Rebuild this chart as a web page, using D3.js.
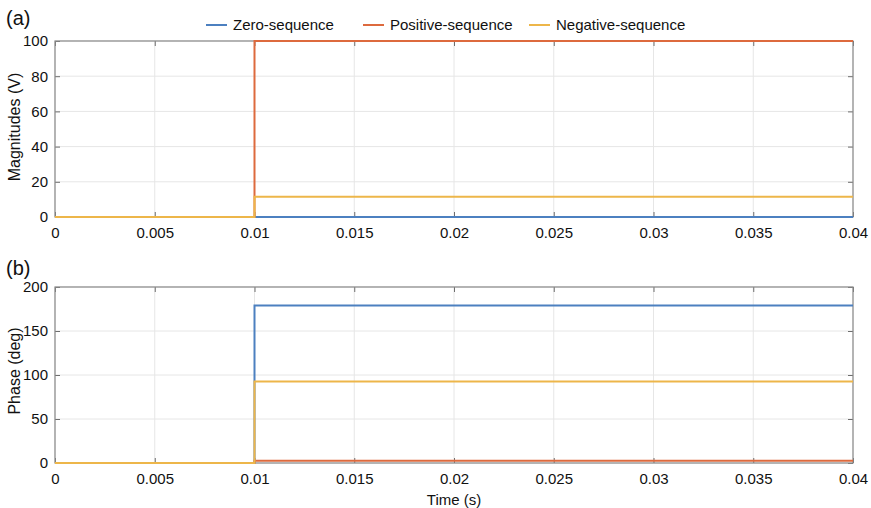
<!DOCTYPE html>
<html>
<head>
<meta charset="utf-8">
<script src="https://cdn.jsdelivr.net/npm/d3@7"></script>
<style>
  html, body { margin: 0; padding: 0; background: #fff; }
  svg { display: block; font-family: "Liberation Sans", Arial, sans-serif; }
</style>
</head>
<body>
<svg id="chart" width="871" height="508"></svg>
<script>
// Sequence components: step change at t = 0.01 s
const seriesNames = ["Zero-sequence", "Positive-sequence", "Negative-sequence"];
const seriesColors = ["#4C80C0", "#DD6A3E", "#EDB64A"];
const stepTime = 0.01;
const timeRange = [0, 0.04];
const magBefore = [0, 0, 0];
const magAfter = [0, 100, 11.5];
const phaseBefore = [0, 0, 0];
const phaseAfter = [179, 2.5, 92.5];
const timeTicks = [0, 0.005, 0.01, 0.015, 0.02, 0.025, 0.03, 0.035, 0.04];
const magTicks = [0, 20, 40, 60, 80, 100];
const phaseTicks = [0, 50, 100, 150, 200];

const svg = d3.select("#chart");
const x = d3.scaleLinear().domain(timeRange).range([55, 853]);
const FS = 15;

function stepPoints(before, after) {
  return [[timeRange[0], before], [stepTime, before], [stepTime, after], [timeRange[1], after]];
}

function panel(opts) {
  const y = d3.scaleLinear().domain(opts.domain).range([opts.bottom, opts.top]);
  const g = svg.append("g");
  const [x0, x1] = x.range();

  // grid
  g.append("g").selectAll("line").data(timeTicks).join("line")
    .attr("x1", d => x(d)).attr("x2", d => x(d))
    .attr("y1", opts.top).attr("y2", opts.bottom)
    .attr("stroke", "#e6e6e6").attr("stroke-width", 1);
  g.append("g").selectAll("line").data(opts.ticks).join("line")
    .attr("x1", x0).attr("x2", x1)
    .attr("y1", d => y(d)).attr("y2", d => y(d))
    .attr("stroke", "#e6e6e6").attr("stroke-width", 1);

  // axes (ticks pointing inward on all four sides)
  const tl = 5;
  g.append("g").attr("transform", `translate(0,${opts.bottom})`)
    .call(d3.axisBottom(x).tickValues(timeTicks).tickSizeInner(-tl).tickSizeOuter(0)
      .tickPadding(10).tickFormat(d => d3.format("")(+d.toFixed(3))))
    .call(a => a.select(".domain").remove());
  g.append("g").attr("transform", `translate(0,${opts.top})`)
    .call(d3.axisTop(x).tickValues(timeTicks).tickSizeInner(-tl).tickSizeOuter(0).tickFormat(""))
    .call(a => a.select(".domain").remove());
  g.append("g").attr("transform", `translate(${x0},0)`)
    .call(d3.axisLeft(y).tickValues(opts.ticks).tickSizeInner(-tl).tickSizeOuter(0).tickPadding(7))
    .call(a => a.select(".domain").remove());
  g.append("g").attr("transform", `translate(${x1},0)`)
    .call(d3.axisRight(y).tickValues(opts.ticks).tickSizeInner(-tl).tickSizeOuter(0).tickFormat(""))
    .call(a => a.select(".domain").remove());
  g.selectAll(".tick line").attr("stroke", "#6e6e6e");
  g.selectAll(".tick text").attr("fill", "#111").attr("font-size", FS)
    .attr("font-family", "Liberation Sans, Arial, sans-serif");

  // frame
  g.append("rect").attr("x", x0).attr("y", opts.top)
    .attr("width", x1 - x0).attr("height", opts.bottom - opts.top)
    .attr("fill", "none").attr("stroke", "#8a8a8a").attr("stroke-width", 1.2);

  // series
  const line = d3.line().x(d => x(d[0])).y(d => y(d[1]));
  seriesNames.forEach((name, i) => {
    g.append("path")
      .datum(stepPoints(opts.before[i], opts.after[i]))
      .attr("d", line)
      .attr("fill", "none")
      .attr("stroke", seriesColors[i])
      .attr("stroke-width", 2);
  });

  // y label
  g.append("text")
    .attr("transform", `translate(20,${opts.labelY}) rotate(-90)`)
    .attr("text-anchor", "middle").attr("font-size", 16).attr("fill", "#111")
    .text(opts.ylabel);

  // panel tag
  svg.append("text").attr("x", 6).attr("y", opts.tagY)
    .attr("font-size", 20).attr("fill", "#111").text(opts.tag);
}

panel({ top: 41, bottom: 217, domain: [0, 100], ticks: magTicks, labelY: 127,
        before: magBefore, after: magAfter, ylabel: "Magnitudes (V)", tag: "(a)", tagY: 25 });
panel({ top: 287, bottom: 463, domain: [0, 200], ticks: phaseTicks, labelY: 371,
        before: phaseBefore, after: phaseAfter, ylabel: "Phase (deg)", tag: "(b)", tagY: 275 });

// x label
svg.append("text").attr("x", x(0.02)).attr("y", 505)
  .attr("text-anchor", "middle").attr("font-size", FS).attr("fill", "#111")
  .text("Time (s)");

// legend
const legendX = [206, 363, 529];
const legend = svg.append("g");
seriesNames.forEach((name, i) => {
  legend.append("line")
    .attr("x1", legendX[i]).attr("x2", legendX[i] + 21)
    .attr("y1", 25).attr("y2", 25)
    .attr("stroke", seriesColors[i]).attr("stroke-width", 2);
  legend.append("text")
    .attr("x", legendX[i] + 27).attr("y", 30)
    .attr("font-size", FS).attr("fill", "#111").text(name);
});
</script>
</body>
</html>
